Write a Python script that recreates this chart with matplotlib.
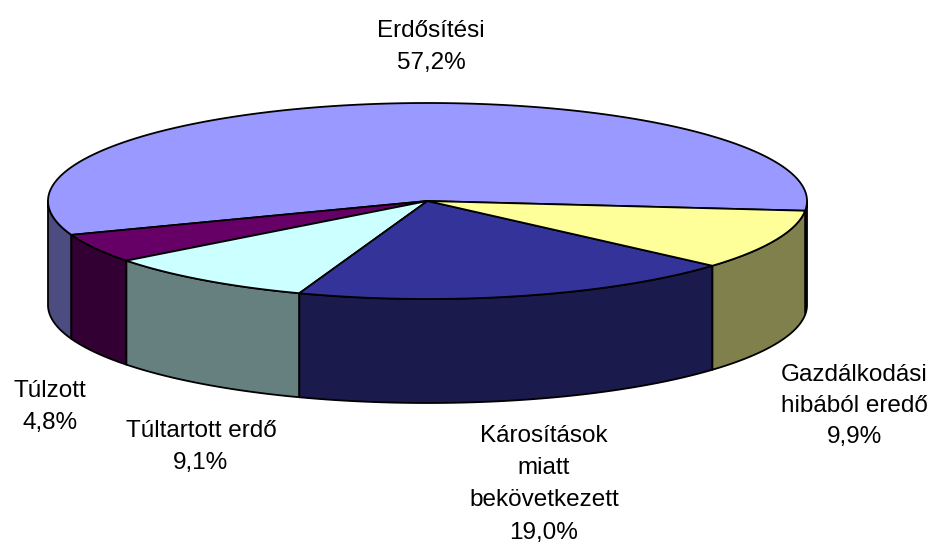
import numpy as np
import matplotlib
matplotlib.use("Agg")
import matplotlib.pyplot as plt
from matplotlib.patches import Polygon

# ---- data (counter-clockwise order, starting at the back/right) ----
categories = ["Erdősítési", "Túlzott", "Túltartott erdő",
              "Károsítások miatt bekövetkezett", "Gazdálkodási hibából eredő"]
values = [57.2, 4.8, 9.1, 19.0, 9.9]
label_lines = [
    ["Erdősítési", "57,2%"],
    ["Túlzott", "4,8%"],
    ["Túltartott erdő", "9,1%"],
    ["Károsítások", "miatt", "bekövetkezett", "19,0%"],
    ["Gazdálkodási", "hibából eredő", "9,9%"],
]
top_colors = ["#9999ff", "#660066", "#ccffff", "#333399", "#ffff99"]
side_colors = ["#4c4c80", "#330033", "#668080", "#1a1a4c", "#80804c"]

# ---- layout (pixel space) ----
W, H = 938, 546
cx, cy, rx, ry, depth = 427.5, 201.0, 379.5, 98.0, 104.0
start_angle = -5.7
label_pos = [  # (center x, first baseline y, line pitch)
    (431, 37, 31.5),
    (50, 397, 32.5),
    (201, 437, 32.0),
    (544, 442, 32.2),
    (854, 381, 30.8),
]

fig = plt.figure(figsize=(W / 100, H / 100), dpi=100)
ax = fig.add_axes([0, 0, 1, 1])
ax.set_xlim(0, W)
ax.set_ylim(H, 0)
ax.axis("off")


def rim(t0, t1, dy=0.0):
    t = np.radians(np.linspace(t0, t1, max(2, int(abs(t1 - t0)) * 2 + 2)))
    return np.column_stack([cx + rx * np.cos(t), cy - ry * np.sin(t) + dy])


fracs = np.array(values) / np.sum(values)
angles = start_angle + np.concatenate([[0], np.cumsum(fracs) * 360])
lw = 1.3

# side walls (front half only: 180..360 deg)
for i in range(len(values)):
    a, b = angles[i], angles[i + 1]
    for lo, hi in [(-180, 0), (180, 360), (540, 720)]:
        s, e = max(a, lo), min(b, hi)
        if e > s:
            top = rim(s, e)
            bot = rim(e, s, dy=depth)
            ax.add_patch(Polygon(np.vstack([top, bot]), closed=True,
                                 facecolor=side_colors[i], edgecolor="black",
                                 linewidth=lw, joinstyle="round"))

# top faces
for i in range(len(values)):
    a, b = angles[i], angles[i + 1]
    pts = np.vstack([[cx, cy], rim(a, b)])
    ax.add_patch(Polygon(pts, closed=True, facecolor=top_colors[i],
                         edgecolor="black", linewidth=lw, joinstyle="round"))

# labels
for lines, (x, y0, pitch) in zip(label_lines, label_pos):
    for k, line in enumerate(lines):
        ax.text(x, y0 + k * pitch, line, ha="center", va="baseline",
                fontsize=17.5, family=["Liberation Sans", "DejaVu Sans"],
                color="black")

fig.savefig("out.png", dpi=100)
